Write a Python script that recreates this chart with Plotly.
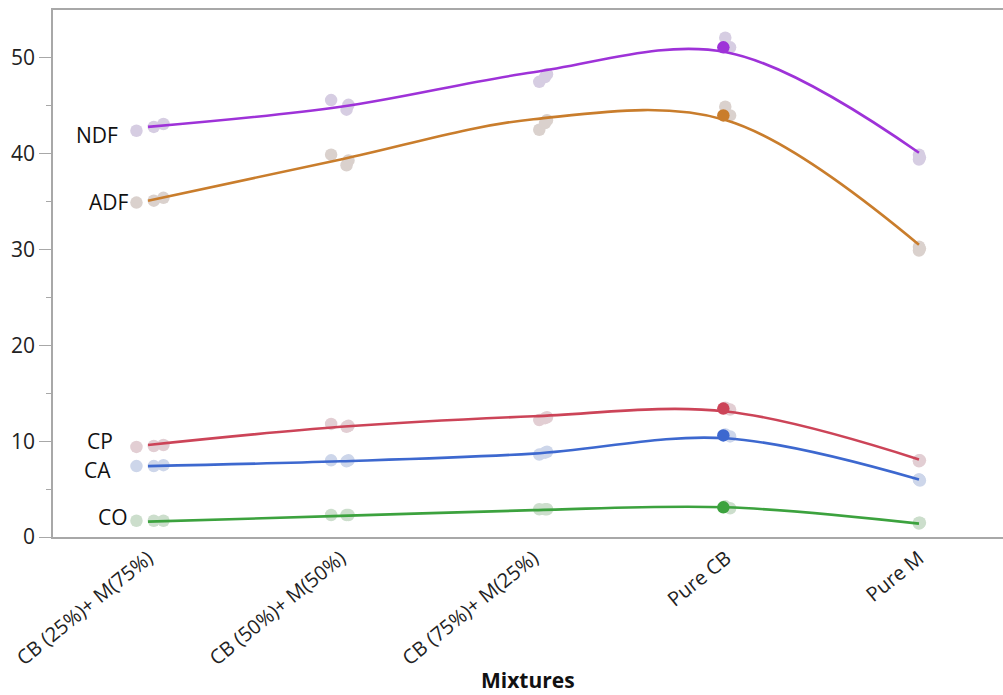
import plotly.graph_objects as go

# Mixture categories (x axis)
mixtures = ["CB (25%)+ M(75%)", "CB (50%)+ M(50%)", "CB (75%)+ M(25%)", "Pure CB", "Pure M"]

# Replicate measurements: one list of three replicates per mixture
ndf = [[42.4, 42.8, 43.1], [45.6, 44.6, 45.1], [47.5, 48.3, 48.0], [51.1, 52.1, 51.1], [39.9, 39.4, 39.6]]
adf = [[34.9, 35.1, 35.4], [39.9, 38.8, 39.3], [42.5, 43.5, 43.2], [44.0, 44.9, 44.0], [30.3, 29.9, 30.1]]
cp = [[9.4, 9.5, 9.6], [11.8, 11.5, 11.6], [12.2, 12.5, 12.4], [13.4, 13.5, 13.3], [8.0, 7.9, 8.0]]
ca = [[7.4, 7.4, 7.5], [8.0, 7.9, 8.0], [8.6, 8.9, 8.8], [10.6, 10.7, 10.5], [6.0, 6.0, 5.9]]
co = [[1.7, 1.7, 1.7], [2.3, 2.3, 2.3], [2.9, 2.9, 2.9], [3.1, 3.2, 3.0], [1.5, 1.4, 1.5]]

# Smoother values at each mixture
ndf_fit = [42.8, 44.9, 48.5, 50.6, 40.1]
adf_fit = [35.1, 39.4, 43.6, 43.5, 30.5]
cp_fit = [9.6, 11.5, 12.6, 13.1, 8.1]
ca_fit = [7.4, 7.9, 8.7, 10.3, 6.0]
co_fit = [1.6, 2.2, 2.8, 3.1, 1.4]

# Row highlighted in the graph: (mixture index, replicate index)
selected_row = (3, 0)

# Horizontal jitter of the replicate points, per mixture and replicate
jitter = [[-0.06, 0.03, 0.08], [-0.05, 0.03, 0.04], [0.03, 0.07, 0.06],
          [-0.015, -0.005, 0.02], [0.0, 0.0, 0.005]]

series = [
    # name, replicates, fit, line colour, dimmed marker colour, label x-shift, label y
    ("NDF", ndf, ndf_fit, "#9E32D8", "#D6CDE2", -28, 42.0),
    ("ADF", adf, adf_fit, "#C97D2C", "#DAD1CD", -17, 35.0),
    ("CP", cp, cp_fit, "#CC4458", "#E2CED3", -33, 10.0),
    ("CA", ca, ca_fit, "#3D68CF", "#CDD6EA", -35, 7.0),
    ("CO", co, co_fit, "#3CA23E", "#CCDECC", -18, 2.1),
]

font_family = "Open Sans, Noto Sans, DejaVu Sans, sans-serif"
fig = go.Figure()
annotations = []

for name, reps, fit, color, dim, dx, ly in series:
    xs, ys = [], []
    for i, vals in enumerate(reps):
        for j, v in enumerate(vals):
            if (i, j) == selected_row:
                continue
            xs.append(i + jitter[i][j])
            ys.append(v)
    fig.add_trace(go.Scatter(
        x=xs, y=ys, mode="markers", name=name + " rows",
        marker=dict(size=12.5, color=dim, line=dict(width=0)),
        showlegend=False, hoverinfo="skip"))
    fig.add_trace(go.Scatter(
        x=list(range(len(mixtures))), y=fit, mode="lines", name=name,
        line=dict(color=color, width=2.6, shape="spline", smoothing=1.0),
        showlegend=False))
    si, sj = selected_row
    fig.add_trace(go.Scatter(
        x=[si + jitter[si][sj]], y=[reps[si][sj]], mode="markers",
        marker=dict(size=12.5, color=color, line=dict(width=0)),
        showlegend=False, hoverinfo="skip"))
    annotations.append(dict(
        x=0, y=ly, xref="x", yref="y", text=name, showarrow=False,
        xanchor="right", yanchor="middle", xshift=dx,
        font=dict(family=font_family, size=21, color="#111111")))

# x-axis title placed below the rotated category labels
annotations.append(dict(
    x=0.5, y=-0.272, xref="paper", yref="paper", text="<b>Mixtures</b>",
    showarrow=False, xanchor="center", yanchor="middle",
    font=dict(family=font_family, size=21, color="#111111")))

fig.update_layout(
    width=1003, height=695,
    margin=dict(l=53, r=0, t=10, b=158),
    paper_bgcolor="white", plot_bgcolor="white",
    font=dict(family=font_family, size=21, color="#222222"),
    annotations=annotations,
    xaxis=dict(
        range=[-0.493, 4.436], automargin=False,
        tickvals=list(range(len(mixtures))), ticktext=mixtures,
        tickangle=-39, ticks="", showgrid=False, zeroline=False,
        showline=True, linecolor="#A8A8A8", linewidth=1.6, mirror=True,
        tickfont=dict(size=20, color="#222222"),
    ),
    yaxis=dict(
        range=[0, 55], automargin=False, tickvals=[0, 10, 20, 30, 40, 50],
        ticks="outside", ticklen=12, tickcolor="#A8A8A8", tickwidth=1.3,
        minor=dict(tickvals=[5, 15, 25, 35, 45], ticks="outside", ticklen=5,
                   tickcolor="#A8A8A8", tickwidth=1.3),
        showgrid=False, zeroline=False,
        showline=True, linecolor="#A8A8A8", linewidth=1.6,
        tickfont=dict(size=21, color="#222222"),
    ),
)

fig.write_html("out.html")
